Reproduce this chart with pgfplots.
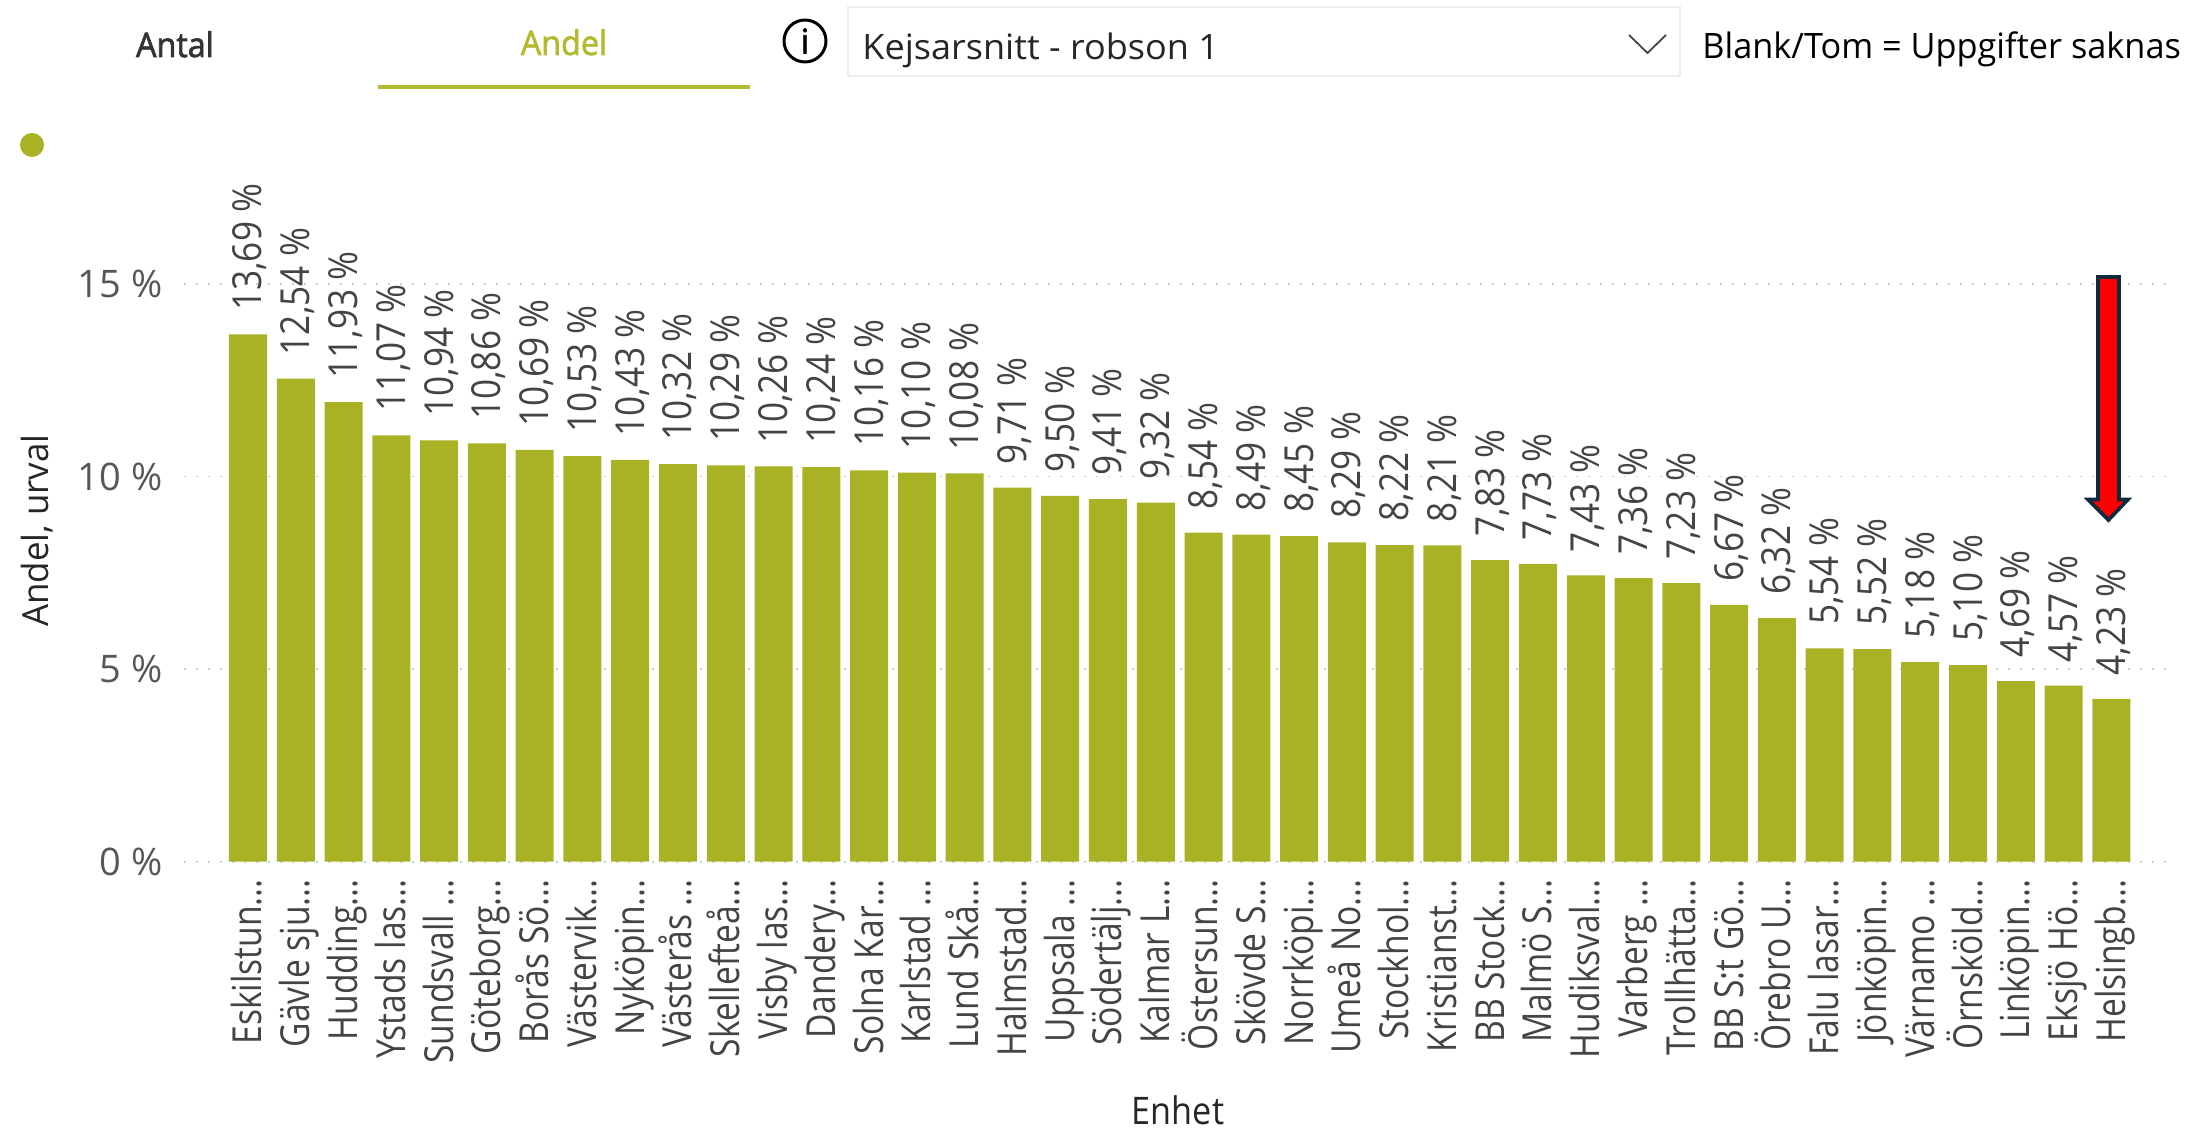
\documentclass[border=0pt]{standalone}
\usepackage{fontspec}
\setmainfont{Open Sans}
\newfontfamily\semib[FakeBold=2]{Open Sans}
\usepackage{graphicx}
\usepackage{pgfplots}
\usepackage{pgfplotstable}
\pgfplotsset{compat=1.18}
\definecolor{barc}{HTML}{A9B124}
\definecolor{tabc}{HTML}{B3BA30}
\definecolor{txt}{HTML}{444444}
\definecolor{gridc}{HTML}{CFCFCF}
\definecolor{navy}{HTML}{0E2A3C}
\newcommand\sq[1]{\scalebox{0.84}[1]{#1}}
\pgfplotstableread{
x y
0 13.69
1 12.54
2 11.93
3 11.07
4 10.94
5 10.86
6 10.69
7 10.53
8 10.43
9 10.32
10 10.29
11 10.26
12 10.24
13 10.16
14 10.10
15 10.08
16 9.71
17 9.50
18 9.41
19 9.32
20 8.54
21 8.49
22 8.45
23 8.29
24 8.22
25 8.21
26 7.83
27 7.73
28 7.43
29 7.36
30 7.23
31 6.67
32 6.32
33 5.54
34 5.52
35 5.18
36 5.10
37 4.69
38 4.57
39 4.23
}\datatable
\begin{document}
\begin{tikzpicture}
\useasboundingbox (0,0) rectangle (1103pt,564.5pt);
\begin{axis}[
  at={(92pt,133.65pt)}, anchor=south west,
  scale only axis, width=994pt, height=308.16pt,
  xmin=-1.339, xmax=40.27, ymin=0, ymax=16,
  axis x line*=bottom, axis y line*=left,
  x axis line style={draw=none}, y axis line style={draw=none},
  clip=false,
  major tick length=0pt,
  ytick={0,5,10,15},
  yticklabels={0 \%,5 \%,10 \%,15 \%},
  ymajorgrids,
  grid style={draw=gridc, line width=0.9pt, dash pattern=on 1pt off 5pt},
  yticklabel style={font=\fontsize{19}{19}\selectfont, text=txt!90, inner sep=0pt, anchor=east, xshift=-10.5pt},
  xtick=data,
  xticklabels={\sq{Eskilstun...},\sq{Gävle sju...},\sq{Hudding...},\sq{Ystads las...},\sq{Sundsvall ...},\sq{Göteborg...},\sq{Borås Sö...},\sq{Västervik...},\sq{Nyköpin...},\sq{Västerås ...},\sq{Skellefteå...},\sq{Visby las...},\sq{Dandery...},\sq{Solna Kar...},\sq{Karlstad ...},\sq{Lund Skå...},\sq{Halmstad...},\sq{Uppsala ...},\sq{Södertälj...},\sq{Kalmar L...},\sq{Östersun...},\sq{Skövde S...},\sq{Norrköpi...},\sq{Umeå No...},\sq{Stockhol...},\sq{Kristianst...},\sq{BB Stock...},\sq{Malmö S...},\sq{Hudiksval...},\sq{Varberg ...},\sq{Trollhätta...},\sq{BB S:t Gö...},\sq{Örebro U...},\sq{Falu lasar...},\sq{Jönköpin...},\sq{Värnamo ...},\sq{Örnsköld...},\sq{Linköpin...},\sq{Eksjö Hö...},\sq{Helsingb...}},
  xticklabel style={xshift=7pt, yshift=-8.6pt, rotate=90, anchor=base east, inner sep=0pt, font=\fontsize{20}{20}\selectfont, text=txt},
  ylabel={\scalebox{0.97}[1]{Andel, urval}},
  ylabel style={font=\fontsize{18}{18}\selectfont, text=black!85, at={(axis description cs:-0.074,0.537)}, anchor=center},
  xlabel={\scalebox{0.9}[1]{Enhet}},
  xlabel style={font=\fontsize{19}{19}\selectfont, text=black!85, at={(axis description cs:0.5,-0.403)}, anchor=center},
]
\addplot[ybar, bar width=19pt, fill=barc, draw=none, point meta=y,
  nodes near coords={\scalebox{0.88}[1]{\pgfmathprintnumber[assume math mode=true,fixed,fixed zerofill,precision=2,use comma]{\pgfplotspointmeta} \%}},
  every node near coord/.append style={xshift=7pt, yshift=11.5pt, rotate=90, anchor=base west, inner sep=0pt, font=\fontsize{20}{20}\selectfont, text=txt}
] table[x=x,y=y] {\datatable};
\end{axis}
\begin{scope}[x=0.5pt,y=-0.5pt,yshift=564.5pt]
  % tabs
  \node[anchor=base,inner sep=0pt,text=black!80,font=\fontsize{17}{17}\selectfont\semib] at (175,57) {\scalebox{0.95}[1]{Antal}};
  \node[anchor=base,inner sep=0pt,text=tabc,font=\fontsize{17}{17}\selectfont\semib] at (564,55) {\scalebox{0.95}[1]{Andel}};
  \fill[tabc] (378,85) rectangle (750,89);
  % legend dot
  \fill[barc] (32,145) circle[radius=12];
  % info icon
  \draw[black,line width=1.5pt] (805,41) circle[radius=21];
  \node[inner sep=0pt,font=\fontsize{17}{17}\selectfont\semib,text=black] at (805,41) {i};
  % dropdown
  \draw[draw=black!7,line width=1pt] (848,7) rectangle (1680,76);
  \node[anchor=base west,inner sep=0pt,text=black!85,font=\fontsize{17.5}{17.5}\selectfont] at (862,60) {\scalebox{1.03}[1]{Kejsarsnitt - robson 1}};
  \draw[txt,line width=0.9pt] (1629,35) -- (1647.5,53) -- (1666,35);
  \node[anchor=base west,inner sep=0pt,text=black,font=\fontsize{17.5}{17.5}\selectfont] at (1702,59) {\scalebox{0.98}[1]{Blank/Tom = Uppgifter saknas}};
  % arrow
  \draw[navy,fill=red,line width=1.8pt,line join=miter]
    (2098,277) -- (2119,277) -- (2119,499.5) -- (2128,499.5) -- (2108.5,520) -- (2088,499.5) -- (2098,499.5) -- cycle;
\end{scope}
\end{tikzpicture}
\end{document}
